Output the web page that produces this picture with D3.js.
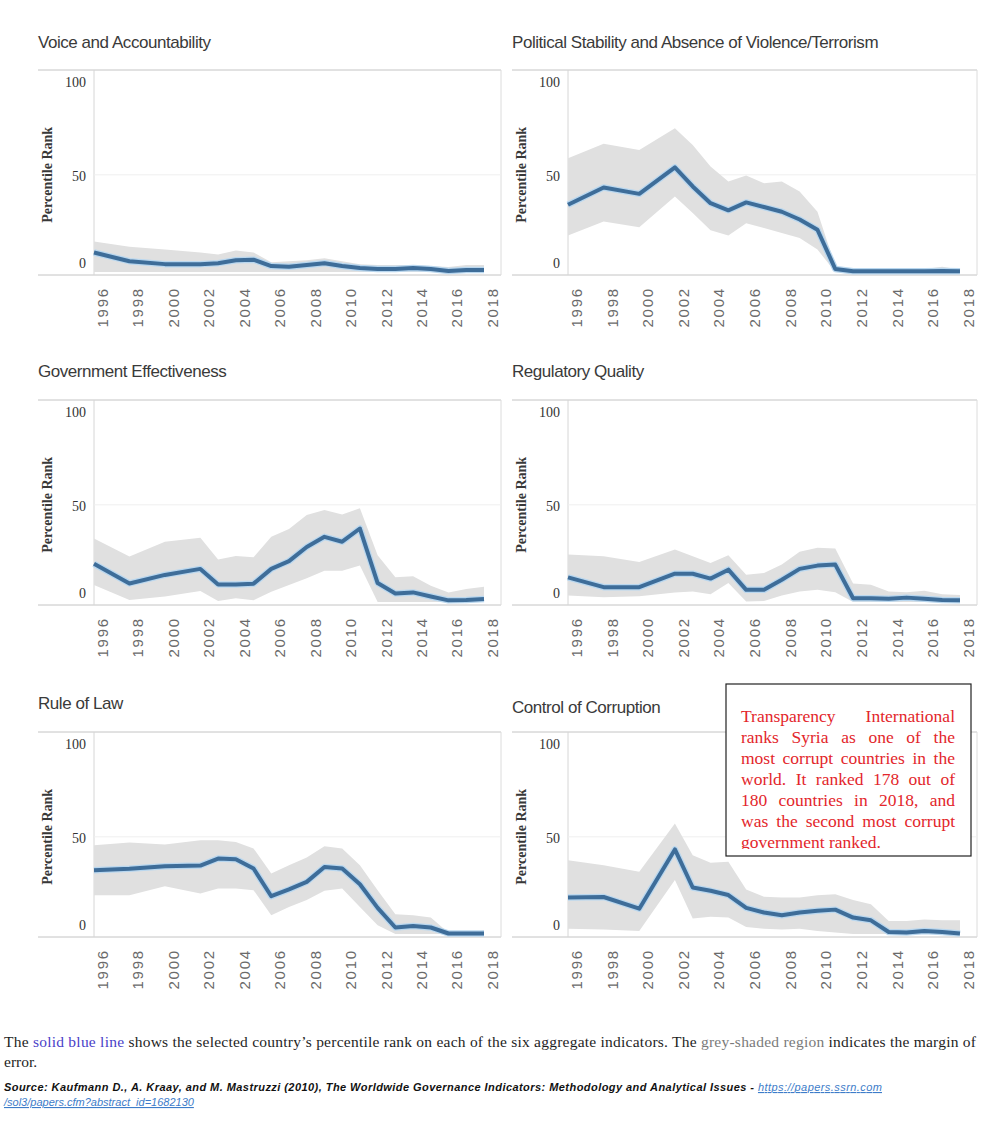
<!DOCTYPE html>
<meta charset="utf-8">
<script src="https://d3js.org/d3.v7.min.js"></script>
<style>
  body { margin: 0; background: #fff; }
</style>
<div id="my_dataviz"></div>
<script>
// years reported by the WGI (annual from 2002)
var years = [1996, 1998, 2000, 2002, 2003, 2004, 2005, 2006, 2007, 2008, 2009, 2010, 2011, 2012, 2013, 2014, 2015, 2016, 2017, 2018];
var tickYears = [1996, 1998, 2000, 2002, 2004, 2006, 2008, 2010, 2012, 2014, 2016, 2018];
var yTicks = [0, 50, 100];

var titles = ["Voice and Accountability", "Political Stability and Absence of Violence/Terrorism",
  "Government Effectiveness", "Regulatory Quality", "Rule of Law", "Control of Corruption"];

// percentile rank and margin of error (lower / upper) for each indicator
var voiceRank  = [10, 5.5, 4, 4, 4.5, 6, 6.3, 3, 2.7, 3.5, 4.5, 3, 2, 1.5, 1.5, 2, 1.5, 0.5, 1, 1];
var voiceLow   = [0, 0, 0, 0, 0, 0, 0, 0, 0, 0, 0, 0, 0, 0, 0, 0, 0, 0, 0, 0];
var voiceHigh  = [15.6, 13, 11.5, 10, 9, 11, 10, 5, 5.5, 6, 7, 5.5, 4, 3.5, 3.5, 3.5, 3, 2.5, 3.5, 3.5];

var stabRank   = [34.6, 43.5, 40.2, 53.8, 44, 35.4, 31.7, 35.8, 33.4, 31, 27, 21.7, 1.5, 0.3, 0.3, 0.3, 0.3, 0.3, 0.5, 0.3];
var stabLow    = [18.7, 26, 23, 38.9, 30.3, 21.4, 18.7, 25, 22.6, 20, 17.5, 11.5, 0, 0, 0, 0, 0, 0, 0, 0];
var stabHigh   = [58.6, 66, 62.8, 74, 65.4, 54.3, 46.6, 49.7, 45.7, 46.6, 41.4, 31, 3, 0.5, 0.8, 0.8, 0.5, 1.5, 2.6, 1.2];

var effRank    = [19.6, 9.5, 13.9, 17, 9, 9, 9.4, 17, 21, 28.3, 33.5, 31, 37.8, 9.7, 4.3, 4.9, 2.8, 0.8, 1, 1.5];
var effLow     = [8.7, 1, 2.8, 5.6, 0.5, 1.9, 0.9, 5.2, 8.7, 12.2, 16, 16, 18.8, 0, 0, 0, 0, 0, 0, 0];
var effHigh    = [32.6, 23.4, 31, 33, 21.9, 23.6, 23, 33.5, 37.5, 44.8, 47.4, 45, 48.3, 24, 12.7, 13.2, 8.3, 4.9, 6.6, 7.8];

var regRank    = [12.6, 7.6, 7.6, 14.5, 14.5, 12, 16.6, 6.2, 6.2, 11.4, 17, 18.7, 19.2, 1.9, 1.9, 1.6, 2.2, 1.6, 1, 0.9];
var regLow     = [3.3, 2.4, 2.9, 4.8, 5.4, 4, 9.7, 0.2, 0.5, 3.3, 5.4, 6.2, 5, 0, 0, 0, 0, 0, 0, 0];
var regHigh    = [24.4, 23.5, 20.6, 27, 23.5, 20, 24, 14, 14.9, 19.2, 25.8, 27.9, 27.5, 9.5, 8.8, 5.4, 5, 5.7, 4, 3.6];

var lawRank    = [32.8, 33.5, 34.9, 35.2, 38.8, 38.5, 33.7, 19.4, 22.9, 26.8, 34.5, 33.7, 25.6, 13.4, 3.3, 4.1, 3.3, 0.2, 0.2, 0.2];
var lawLow     = [19.9, 19.9, 24.6, 20.8, 23.4, 23.4, 22.5, 9.6, 13.9, 17.4, 22.2, 23.4, 13.9, 4.5, 0, 0, 0, 0, 0, 0];
var lawHigh    = [45.7, 47.1, 46, 48.3, 48.3, 47.4, 44, 31.1, 35.4, 39.3, 45.2, 44, 35.4, 22.5, 10.1, 9.6, 8.4, 0.6, 0.5, 1.9];

var corrRank   = [18.7, 19, 13, 43.5, 23.9, 22.2, 20, 13.4, 11, 9.6, 11, 11.9, 12.5, 8.4, 7, 1, 0.7, 1.5, 1, 0.2];
var corrLow    = [2.7, 2.2, 1.5, 27.7, 7.9, 8.8, 8.4, 3.6, 2.7, 2.2, 2.7, 1.5, 0.7, 0, 0, 0, 0, 0, 0, 0];
var corrHigh   = [38, 35.4, 32, 56.9, 40.5, 36.6, 37.1, 22.9, 19.1, 18.7, 18.7, 19.9, 20.4, 17.4, 15.3, 6.7, 6.7, 7.4, 7, 7];

var series = [
  [voiceRank, voiceLow, voiceHigh], [stabRank, stabLow, stabHigh],
  [effRank, effLow, effHigh], [regRank, regLow, regHigh],
  [lawRank, lawLow, lawHigh], [corrRank, corrLow, corrHigh]
];

var noteLines = ["Transparency International", "ranks Syria as one of the", "most corrupt countries in the",
  "world. It ranked 178 out of", "180 countries in 2018, and", "was the second most corrupt", "government ranked."];

var W = 989, H = 1128;
var svg = d3.select("#my_dataviz").append("svg")
  .attr("width", W).attr("height", H)
  .style("font-family", "'Liberation Sans', Arial, sans-serif");

// panel layout
var colLeft = [38, 512], colRight = [501, 977];
var rowTop = [70, 400, 732], titleY = [[48, 48], [377, 377], [709, 713]];
var frameH = 205;

series.forEach(function(s, i) {
  var col = i % 2, row = Math.floor(i / 2);
  var fx = colLeft[col], fr = colRight[col], top = rowTop[row], bottom = top + frameH;
  var ax = fx + 56;

  var x = d3.scaleLinear().domain([1996, 2018]).range([ax, fr - 17]);
  var y = d3.scaleLinear().domain([-1.6, 104]).range([bottom, top]);

  var g = svg.append("g");

  g.append("text")
    .attr("x", fx).attr("y", titleY[row][col])
    .style("font-size", "17px").style("letter-spacing", "-0.45px")
    .style("fill", "#3a3a3a")
    .text(titles[i]);

  // frame
  g.append("line").attr("x1", fx).attr("x2", fr).attr("y1", top).attr("y2", top).style("stroke", "#c4c4c4");
  g.append("line").attr("x1", fx).attr("x2", fr).attr("y1", bottom).attr("y2", bottom).style("stroke", "#c4c4c4");
  g.append("line").attr("x1", fr).attr("x2", fr).attr("y1", top).attr("y2", bottom).style("stroke", "#dcdcdc");
  g.append("line").attr("x1", ax).attr("x2", ax).attr("y1", top).attr("y2", bottom).style("stroke", "#d6d6d6");
  g.append("line").attr("x1", ax).attr("x2", fr).attr("y1", y(50)).attr("y2", y(50)).style("stroke", "#efefef");

  var data = years.map(function(yr, k) { return {year: yr, v: s[0][k], lo: s[1][k], hi: s[2][k]}; });

  var area = d3.area().x(function(d) { return x(d.year); })
    .y0(function(d) { return y(d.lo); }).y1(function(d) { return y(d.hi); });
  g.append("path").datum(data).attr("d", area).style("fill", "#e0e0e0");

  var line = d3.line().x(function(d) { return x(d.year); }).y(function(d) { return y(d.v); });
  g.append("path").datum(data).attr("d", line)
    .style("fill", "none").style("stroke", "#b9d7ef").style("stroke-width", 6.5).style("stroke-linejoin", "round");
  g.append("path").datum(data).attr("d", line)
    .style("fill", "none").style("stroke", "#3e6d99").style("stroke-width", 4).style("stroke-linejoin", "round");

  // y axis
  var yAxis = g.append("g").attr("transform", "translate(" + (ax - 8) + ",0)")
    .call(d3.axisLeft(y).tickValues(yTicks).tickSize(0).tickPadding(0));
  yAxis.select(".domain").remove();
  yAxis.selectAll("text")
    .style("font-family", "'Liberation Serif', 'Times New Roman', serif")
    .style("font-size", "14px").style("fill", "#333")
    .attr("dy", function(d) { return d === 0 ? "-0.35em" : d === 100 ? "0.6em" : "0.4em"; });

  g.append("text")
    .attr("transform", "translate(" + (fx + 14) + "," + y(50) + ") rotate(-90)")
    .style("text-anchor", "middle")
    .style("font-family", "'Liberation Serif', 'Times New Roman', serif")
    .style("font-size", "14px").style("font-weight", "bold").style("fill", "#383838")
    .text("Percentile Rank");

  // x axis, rotated labels
  var xAxis = g.append("g").attr("transform", "translate(0," + bottom + ")")
    .call(d3.axisBottom(x).tickValues(tickYears).tickFormat(d3.format("d")).tickSize(0).tickPadding(0));
  xAxis.select(".domain").remove();
  xAxis.selectAll("text")
    .attr("y", 0).attr("dy", "0.36em")
    .attr("transform", "translate(8,12) rotate(-90)")
    .style("text-anchor", "end")
    .style("font-family", "'Liberation Sans', Arial, sans-serif")
    .style("font-size", "15px").style("letter-spacing", "1.8px")
    .style("fill", "#6a6a6a");
});

// annotation box (last line overflows and is cut, as in the original)
var box = {x: 726, y: 684, w: 245, h: 172};
svg.append("clipPath").attr("id", "noteClip").append("rect")
  .attr("x", box.x).attr("y", box.y).attr("width", box.w).attr("height", box.h - 7);
svg.append("rect").attr("x", box.x).attr("y", box.y).attr("width", box.w).attr("height", box.h)
  .style("fill", "#fff").style("stroke", "#222").style("stroke-width", 1.2);

var note = svg.append("g").attr("clip-path", "url(#noteClip)")
  .style("font-family", "'Liberation Serif', 'Times New Roman', serif")
  .style("font-size", "17.5px").style("fill", "#e3262b");
var tx0 = 741, tx1 = 955;
noteLines.forEach(function(ln, i) {
  var yy = box.y + 38 + i * 21;
  var words = ln.split(" ");
  var t = note.append("text").attr("y", yy);
  if (i === noteLines.length - 1) { t.attr("x", tx0).text(ln); return; }
  var spans = words.map(function(w) { return t.append("tspan").text(w); });
  var widths = spans.map(function(sp) { return sp.node().getComputedTextLength(); });
  var gap = (tx1 - tx0 - d3.sum(widths)) / (words.length - 1);
  var cx = tx0;
  spans.forEach(function(sp, k) { sp.attr("x", cx); cx += widths[k] + gap; });
});

// caption
var cap = svg.append("text").attr("x", 4).attr("y", 1047)
  .attr("textLength", 972).attr("lengthAdjust", "spacing")
  .style("font-family", "'Liberation Serif', 'Times New Roman', serif")
  .style("font-size", "15.5px").style("fill", "#1e1e1e");
cap.append("tspan").text("The ");
cap.append("tspan").style("fill", "#4a3fc8").text("solid blue line");
cap.append("tspan").text(" shows the selected country\u2019s percentile rank on each of the six aggregate indicators.  The ");
cap.append("tspan").style("fill", "#7a7a7a").text("grey-shaded region");
cap.append("tspan").text(" indicates the margin of");
svg.append("text").attr("x", 4).attr("y", 1067)
  .style("font-family", "'Liberation Serif', 'Times New Roman', serif")
  .style("font-size", "15.5px").style("fill", "#1e1e1e").text("error.");

var src = svg.append("text").attr("x", 4).attr("y", 1091)
  .attr("textLength", 878).attr("lengthAdjust", "spacing")
  .style("font-size", "11px").style("font-style", "italic");
src.append("tspan").style("font-weight", "bold").style("fill", "#111")
  .text("Source: Kaufmann D., A. Kraay, and M. Mastruzzi (2010), The Worldwide Governance Indicators: Methodology and Analytical Issues - ");
src.append("tspan").style("fill", "#3d7cc9").style("text-decoration", "underline").text("https://papers.ssrn.com");
svg.append("text").attr("x", 4).attr("y", 1106)
  .style("font-size", "11px").style("font-style", "italic").style("fill", "#3d7cc9")
  .style("text-decoration", "underline")
  .text("/sol3/papers.cfm?abstract_id=1682130");
</script>
